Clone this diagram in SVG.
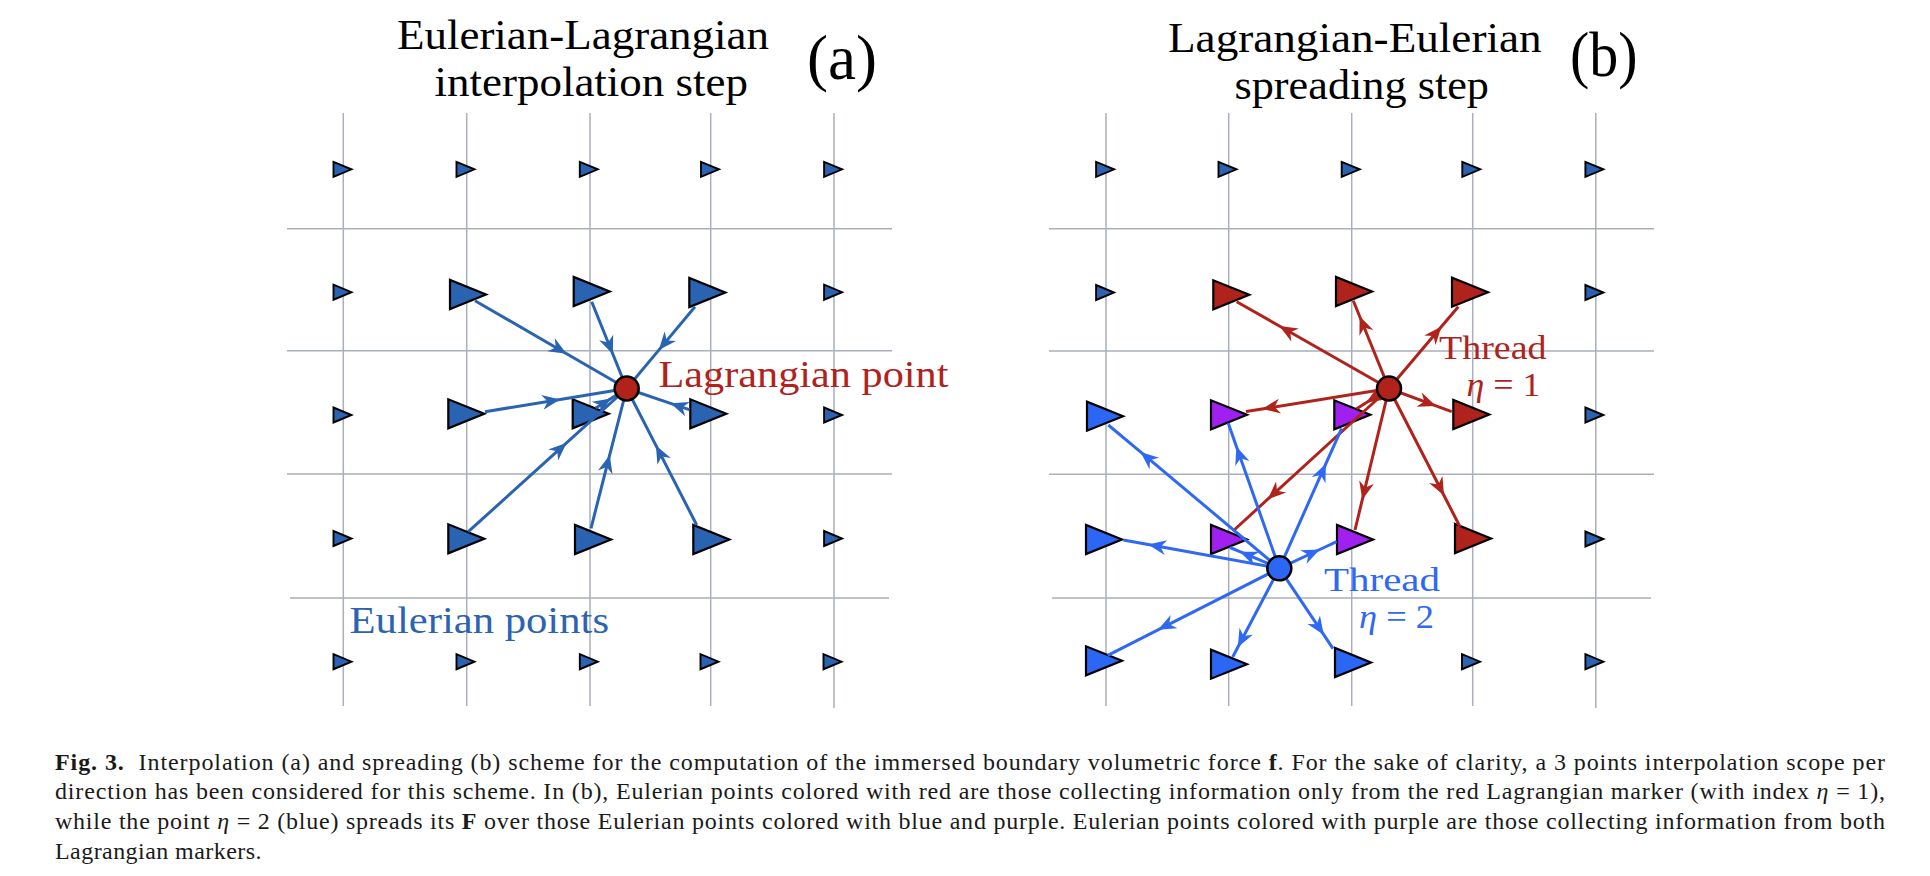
<svg xmlns="http://www.w3.org/2000/svg" xmlns:xlink="http://www.w3.org/1999/xlink" width="1930" height="876" viewBox="0 0 1930 876">
<style>
.grid{stroke:#a9b0bb;stroke-width:1.5;fill:none}
.tri{stroke:#000;stroke-width:2.2;stroke-linejoin:miter}
.sm{stroke:#000;stroke-width:1.9;stroke-linejoin:miter}
.ea{fill:#2b63b3}
.eb{fill:#2b66f5}
.ep{fill:#a020f0}
.er{fill:#b0231c}
.lag{stroke:#000;stroke-width:2.5}
.lr{fill:#b1221a}
.lb{fill:#2b66f5}
.ca{stroke:#2b63b3;stroke-width:3;fill:none;marker-mid:url(#ma)}
.cr{stroke:#b0231c;stroke-width:3;fill:none;marker-mid:url(#mr)}
.cb{stroke:#2f68f3;stroke-width:3;fill:none;marker-mid:url(#mb)}
.title{font-family:"Liberation Serif","DejaVu Serif",serif;font-size:42px;fill:#000}
.lbl{font-family:"Liberation Serif","DejaVu Serif",serif;font-size:38px}
.thr{font-family:"Liberation Serif","DejaVu Serif",serif;font-size:33px}
.cap{font-family:"Liberation Serif","DejaVu Serif",serif;font-size:24px;fill:#1a1a1a}
</style>
<defs>
<polygon id="st" points="-9.5,-7.5 -9.5,7.5 8.5,0"/>
<polygon id="bt" points="1,1 1,30 37,15.5"/>
<marker id="ma" viewBox="-20 -10 22 20" refX="0" refY="0" markerWidth="22" markerHeight="20" markerUnits="userSpaceOnUse" orient="auto"><path d="M0,0 L-18,-7.5 L-12.5,0 L-18,7.5 Z" fill="#2b63b3"/></marker>
<marker id="mr" viewBox="-20 -10 22 20" refX="0" refY="0" markerWidth="22" markerHeight="20" markerUnits="userSpaceOnUse" orient="auto"><path d="M0,0 L-18,-7.5 L-12.5,0 L-18,7.5 Z" fill="#b0231c"/></marker>
<marker id="mb" viewBox="-20 -10 22 20" refX="0" refY="0" markerWidth="22" markerHeight="20" markerUnits="userSpaceOnUse" orient="auto"><path d="M0,0 L-18,-7.5 L-12.5,0 L-18,7.5 Z" fill="#2f68f3"/></marker>
</defs>
<rect width="1930" height="876" fill="#fff"/>

<g id="grid-a" class="grid">
<path d="M343.3,113V706 M466.7,113V706 M590,113V706 M710.7,113V706 M834,113V708"/>
<path d="M287,228.7H892 M287,350.7H892 M287,474H892 M290,598H889"/>
</g>
<g id="grid-b" class="grid">
<path d="M1106,113V706 M1228.7,113V706 M1351.7,113V706 M1472.7,113V706 M1595.8,113V708"/>
<path d="M1049,228.7H1654 M1049,351H1654 M1049,474.3H1654 M1052,598H1651"/>
</g>

<g id="titles">
<text class="title"><tspan x="397" y="49" textLength="372" lengthAdjust="spacingAndGlyphs">Eulerian-Lagrangian</tspan><tspan x="434.5" y="96" textLength="313.5" lengthAdjust="spacingAndGlyphs">interpolation step</tspan></text>
<text class="title" x="807" y="79" style="font-size:63px" textLength="70" lengthAdjust="spacingAndGlyphs">(a)</text>
<text class="title"><tspan x="1168" y="52" textLength="373.6" lengthAdjust="spacingAndGlyphs">Lagrangian-Eulerian</tspan><tspan x="1234.5" y="99" textLength="254.5" lengthAdjust="spacingAndGlyphs">spreading step</tspan></text>
<text class="title" x="1570" y="76" style="font-size:63px" textLength="67.6" lengthAdjust="spacingAndGlyphs">(b)</text>
</g>

<!-- Panel (a) Eulerian nodes -->
<g id="a-r1c1"><use xlink:href="#st" x="343" y="169.3" class="sm ea"/></g>
<g id="a-r1c2"><use xlink:href="#st" x="466" y="169.3" class="sm ea"/></g>
<g id="a-r1c3"><use xlink:href="#st" x="589.3" y="169.3" class="sm ea"/></g>
<g id="a-r1c4"><use xlink:href="#st" x="710.5" y="169.3" class="sm ea"/></g>
<g id="a-r1c5"><use xlink:href="#st" x="833.6" y="169.3" class="sm ea"/></g>
<g id="a-r2c1"><use xlink:href="#st" x="343" y="292.2" class="sm ea"/></g>
<g id="a-r2c2"><use xlink:href="#bt" x="449" y="279" class="tri ea"/></g>
<g id="a-r2c3"><use xlink:href="#bt" x="572.7" y="276" class="tri ea"/></g>
<g id="a-r2c4"><use xlink:href="#bt" x="688.3" y="277" class="tri ea"/></g>
<g id="a-r2c5"><use xlink:href="#st" x="833.6" y="292.2" class="sm ea"/></g>
<g id="a-r3c1"><use xlink:href="#st" x="343" y="415" class="sm ea"/></g>
<g id="a-r3c2"><use xlink:href="#bt" x="447.3" y="398.3" class="tri ea"/></g>
<g id="a-r3c3"><use xlink:href="#bt" x="571.7" y="398.3" class="tri ea"/></g>
<g id="a-r3c4"><use xlink:href="#bt" x="689.3" y="398.3" class="tri ea"/></g>
<g id="a-r3c5"><use xlink:href="#st" x="833.6" y="415" class="sm ea"/></g>
<g id="a-r4c1"><use xlink:href="#st" x="343" y="538.5" class="sm ea"/></g>
<g id="a-r4c2"><use xlink:href="#bt" x="447.3" y="523.3" class="tri ea"/></g>
<g id="a-r4c3"><use xlink:href="#bt" x="574" y="524" class="tri ea"/></g>
<g id="a-r4c4"><use xlink:href="#bt" x="692.3" y="524" class="tri ea"/></g>
<g id="a-r4c5"><use xlink:href="#st" x="833.6" y="538.5" class="sm ea"/></g>
<g id="a-r5c1"><use xlink:href="#st" x="343" y="661.7" class="sm ea"/></g>
<g id="a-r5c2"><use xlink:href="#st" x="466" y="661.7" class="sm ea"/></g>
<g id="a-r5c3"><use xlink:href="#st" x="589.3" y="661.7" class="sm ea"/></g>
<g id="a-r5c4"><use xlink:href="#st" x="710" y="661.7" class="sm ea"/></g>
<g id="a-r5c5"><use xlink:href="#st" x="833" y="661.7" class="sm ea"/></g>

<!-- Panel (b) Eulerian nodes -->
<g id="b-r1c1"><use xlink:href="#st" x="1105.6" y="169.3" class="sm ea"/></g>
<g id="b-r1c2"><use xlink:href="#st" x="1228" y="169.3" class="sm ea"/></g>
<g id="b-r1c3"><use xlink:href="#st" x="1351.2" y="169.3" class="sm ea"/></g>
<g id="b-r1c4"><use xlink:href="#st" x="1471.8" y="169.3" class="sm ea"/></g>
<g id="b-r1c5"><use xlink:href="#st" x="1594.9" y="169.3" class="sm ea"/></g>
<g id="b-r2c1"><use xlink:href="#st" x="1105.6" y="292.5" class="sm ea"/></g>
<g id="b-r2c2"><use xlink:href="#bt" x="1212.3" y="279.3" class="tri er"/></g>
<g id="b-r2c3"><use xlink:href="#bt" x="1335" y="276" class="tri er"/></g>
<g id="b-r2c4"><use xlink:href="#bt" x="1451" y="276.7" class="tri er"/></g>
<g id="b-r2c5"><use xlink:href="#st" x="1594.9" y="292.5" class="sm ea"/></g>
<g id="b-r3c1"><use xlink:href="#bt" x="1086" y="400.7" class="tri eb"/></g>
<g id="b-r3c2"><use xlink:href="#bt" x="1210" y="399.3" class="tri ep"/></g>
<g id="b-r3c3"><use xlink:href="#bt" x="1333.3" y="399.3" class="tri ep"/></g>
<g id="b-r3c4"><use xlink:href="#bt" x="1452.3" y="399" class="tri er"/></g>
<g id="b-r3c5"><use xlink:href="#st" x="1594.9" y="415" class="sm ea"/></g>
<g id="b-r4c1"><use xlink:href="#bt" x="1085" y="524" class="tri eb"/></g>
<g id="b-r4c2"><use xlink:href="#bt" x="1210" y="524" class="tri ep"/></g>
<g id="b-r4c3"><use xlink:href="#bt" x="1336" y="524" class="tri ep"/></g>
<g id="b-r4c4"><use xlink:href="#bt" x="1454" y="523" class="tri er"/></g>
<g id="b-r4c5"><use xlink:href="#st" x="1594.9" y="539" class="sm ea"/></g>
<g id="b-r5c1"><use xlink:href="#bt" x="1085" y="645.3" class="tri eb"/></g>
<g id="b-r5c2"><use xlink:href="#bt" x="1210" y="648.7" class="tri eb"/></g>
<g id="b-r5c3"><use xlink:href="#bt" x="1334" y="647" class="tri eb"/></g>
<g id="b-r5c4"><use xlink:href="#st" x="1471.5" y="661.7" class="sm ea"/></g>
<g id="b-r5c5"><use xlink:href="#st" x="1594.9" y="661.7" class="sm ea"/></g>

<g id="connectors">
<path class="ca" d="M475,300.7 L566.6,353.7 L626.7,388.5"/>
<path class="ca" d="M591.7,301.7 L612.9,354.2 L626.7,388.5"/>
<path class="ca" d="M695,306.7 L658.8,350.1 L626.7,388.5"/>
<path class="ca" d="M485,411.7 L560.1,399.4 L626.7,388.5"/>
<path class="ca" d="M595.7,408.1 L611,398.5 L626.7,388.5"/>
<path class="ca" d="M689.3,409.7 L670.5,403.3 L626.7,388.5"/>
<path class="ca" d="M468.3,531.7 L566.5,442.9 L626.7,388.5"/>
<path class="ca" d="M591,528.3 L609.7,454.9 L626.7,388.5"/>
<path class="ca" d="M696.7,525 L655.9,445.4 L626.7,388.5"/>

<path class="cr" d="M1389,388.5 L1279.4,326 L1236.7,301.7"/>
<path class="cr" d="M1389,388.5 L1359.6,316.2 L1353.3,300.7"/>
<path class="cr" d="M1389,388.5 L1441.5,326.5 L1458.3,306.7"/>
<path class="cr" d="M1389,388.5 L1262.2,408.9 L1246,411.5"/>
<path class="cr" d="M1389,388.5 L1366.1,402.8 L1356.7,408.7"/>
<path class="cr" d="M1389,388.5 L1436,405.9 L1451.7,411.7"/>
<path class="cr" d="M1389,388.5 L1267.8,499.2 L1233,531"/>
<path class="cr" d="M1389,388.5 L1362.3,499.7 L1355,530"/>
<path class="cr" d="M1389,388.5 L1444,495.5 L1460,526.7"/>

<path class="cb" d="M1279.3,568.3 L1140.5,451.9 L1108.3,425"/>
<path class="cb" d="M1279.3,568.3 L1236.4,446.5 L1228.3,423.3"/>
<path class="cb" d="M1279.3,568.3 L1325.9,463.7 L1341.7,428.3"/>
<path class="cb" d="M1279.3,568.3 L1148.2,544.5 L1123.3,540"/>
<path class="cb" d="M1279.3,568.3 L1239.9,551.7 L1230,547.5"/>
<path class="cb" d="M1279.3,568.3 L1319.8,549.5 L1336.7,541.7"/>
<path class="cb" d="M1279.3,568.3 L1158,629.8 L1107.8,655.3"/>
<path class="cb" d="M1279.3,568.3 L1237.8,647.2 L1232.7,657"/>
<path class="cb" d="M1279.3,568.3 L1323.7,634.7 L1333,648.7"/>
</g>

<g id="a-lagrangian"><circle class="lag lr" cx="626.7" cy="388.5" r="12"/></g>
<g id="b-lagrangian1"><circle class="lag lr" cx="1389" cy="388.5" r="12"/></g>
<g id="b-lagrangian2"><circle class="lag lb" cx="1279.3" cy="568.3" r="12"/></g>

<g id="labels">
<text class="lbl" x="658.5" y="386.7" fill="#b0231c" textLength="290" lengthAdjust="spacingAndGlyphs">Lagrangian point</text>
<text class="lbl" x="349.5" y="633" fill="#2b63b3" textLength="259.5" lengthAdjust="spacingAndGlyphs">Eulerian points</text>
<text class="thr" x="1439" y="358.5" fill="#b0231c" textLength="107.5" lengthAdjust="spacingAndGlyphs">Thread</text>
<text class="thr" x="1466.5" y="396" fill="#b0231c" textLength="74" lengthAdjust="spacingAndGlyphs"><tspan font-style="italic">η</tspan> = 1</text>
<text class="thr" x="1324" y="590.5" fill="#2f68f3" textLength="116" lengthAdjust="spacingAndGlyphs">Thread</text>
<text class="thr" x="1359" y="628" fill="#2f68f3" textLength="75" lengthAdjust="spacingAndGlyphs"><tspan font-style="italic">η</tspan> = 2</text>
</g>

<g id="caption">
<text class="cap" x="55" y="769.5" textLength="1830" lengthAdjust="spacing"><tspan font-weight="bold">Fig. 3.</tspan>&#160; Interpolation (a) and spreading (b) scheme for the computation of the immersed boundary volumetric force <tspan font-weight="bold">f</tspan>. For the sake of clarity, a 3 points interpolation scope per</text>
<text class="cap" x="55" y="799.3" textLength="1830" lengthAdjust="spacing">direction has been considered for this scheme. In (b), Eulerian points colored with red are those collecting information only from the red Lagrangian marker (with index <tspan font-style="italic">η</tspan> = 1),</text>
<text class="cap" x="55" y="829.1" textLength="1830" lengthAdjust="spacing">while the point <tspan font-style="italic">η</tspan> = 2 (blue) spreads its <tspan font-weight="bold">F</tspan> over those Eulerian points colored with blue and purple. Eulerian points colored with purple are those collecting information from both</text>
<text class="cap" x="55" y="858.9" textLength="206.5" lengthAdjust="spacing">Lagrangian markers.</text>
</g>
</svg>
